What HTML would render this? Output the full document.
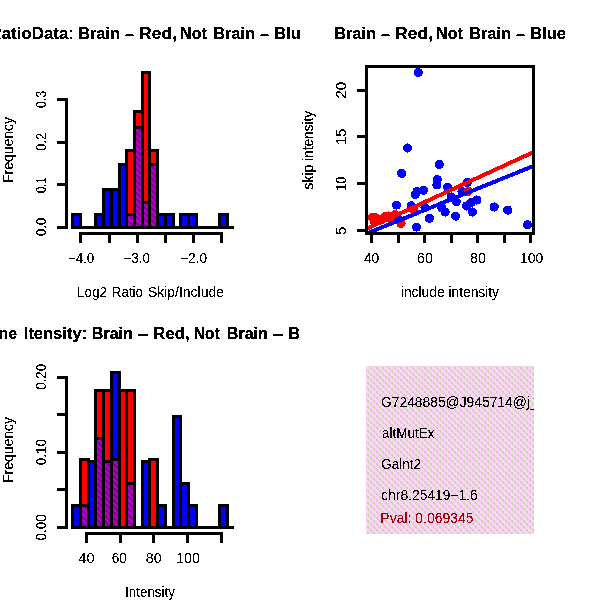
<!DOCTYPE html>
<html><head><meta charset="utf-8"><title>Brain vs Not Brain</title>
<style>
html,body{margin:0;padding:0;background:#fff;}
svg{display:block;font-family:"Liberation Sans",sans-serif;}
</style></head>
<body>
<svg width="600" height="600" viewBox="0 0 600 600">
<defs>
<pattern id="pk" width="6" height="6" patternUnits="userSpaceOnUse"><rect width="6" height="6" fill="#ffd2ff"/><g fill="#cbd5ac" shape-rendering="crispEdges"><rect x="2" y="0" width="1" height="1" opacity="0.85"/><rect x="3" y="0" width="1" height="1" opacity="0.85"/><rect x="4" y="1" width="1" height="1" opacity="1"/><rect x="5" y="1" width="1" height="1" opacity="1"/><rect x="4" y="2" width="1" height="1" opacity="1"/><rect x="5" y="2" width="1" height="1" opacity="1"/><rect x="5" y="3" width="1" height="1" opacity="0.85"/><rect x="0" y="3" width="1" height="1" opacity="0.85"/><rect x="1" y="4" width="1" height="1" opacity="1"/><rect x="2" y="4" width="1" height="1" opacity="1"/><rect x="1" y="5" width="1" height="1" opacity="1"/><rect x="2" y="5" width="1" height="1" opacity="1"/></g></pattern>
<pattern id="pp" width="6" height="6" patternUnits="userSpaceOnUse"><rect width="6" height="6" fill="#86008c"/><g fill="#ba00d8" shape-rendering="crispEdges"><rect x="5" y="0" width="1" height="1" opacity="0.3"/><rect x="0" y="0" width="1" height="1" opacity="1"/><rect x="1" y="0" width="1" height="1" opacity="1"/><rect x="2" y="0" width="1" height="1" opacity="0.25"/><rect x="0" y="1" width="1" height="1" opacity="0.3"/><rect x="1" y="1" width="1" height="1" opacity="1"/><rect x="2" y="1" width="1" height="1" opacity="1"/><rect x="3" y="1" width="1" height="1" opacity="0.25"/><rect x="1" y="2" width="1" height="1" opacity="0.3"/><rect x="2" y="2" width="1" height="1" opacity="1"/><rect x="3" y="2" width="1" height="1" opacity="1"/><rect x="4" y="2" width="1" height="1" opacity="0.25"/><rect x="2" y="3" width="1" height="1" opacity="0.3"/><rect x="3" y="3" width="1" height="1" opacity="1"/><rect x="4" y="3" width="1" height="1" opacity="1"/><rect x="5" y="3" width="1" height="1" opacity="0.25"/><rect x="3" y="4" width="1" height="1" opacity="0.3"/><rect x="4" y="4" width="1" height="1" opacity="1"/><rect x="5" y="4" width="1" height="1" opacity="1"/><rect x="0" y="4" width="1" height="1" opacity="0.25"/><rect x="4" y="5" width="1" height="1" opacity="0.3"/><rect x="5" y="5" width="1" height="1" opacity="1"/><rect x="0" y="5" width="1" height="1" opacity="1"/><rect x="1" y="5" width="1" height="1" opacity="0.25"/></g></pattern>
<filter id="th" x="0" y="0" width="600" height="600" filterUnits="userSpaceOnUse" color-interpolation-filters="sRGB"><feComponentTransfer><feFuncA type="discrete" tableValues="0 0 0 0 0 0 0 0 0 1 1 1 1 1 1 1 1 1 1 1"/></feComponentTransfer></filter>
<filter id="thb" x="0" y="0" width="600" height="600" filterUnits="userSpaceOnUse" color-interpolation-filters="sRGB"><feComponentTransfer><feFuncA type="discrete" tableValues="0 1 1"/></feComponentTransfer></filter>
<clipPath id="c2"><rect x="366.5" y="66.5" width="167" height="167"/></clipPath>
<clipPath id="c4"><rect x="366" y="366" width="168" height="168"/></clipPath>
<clipPath id="f1"><rect x="0" y="0" width="300" height="300"/></clipPath>
<clipPath id="f3"><rect x="0" y="300" width="300" height="300"/></clipPath>
</defs>
<rect width="600" height="600" fill="#fff"/>
<g shape-rendering="crispEdges">
<rect x="72.5" y="214.5" width="8.0" height="13.0" fill="#0000ff" stroke="#000" stroke-width="3"/>
<rect x="95.5" y="214.5" width="8.0" height="13.0" fill="#0000ff" stroke="#000" stroke-width="3"/>
<rect x="103.5" y="189.5" width="8.0" height="38.0" fill="#0000ff" stroke="#000" stroke-width="3"/>
<rect x="111.5" y="189.5" width="8.0" height="38.0" fill="#0000ff" stroke="#000" stroke-width="3"/>
<rect x="119.5" y="164.5" width="7.0" height="63.0" fill="#0000ff" stroke="#000" stroke-width="3"/>
<rect x="126.5" y="214.5" width="8.0" height="13.0" fill="#0000ff" stroke="#000" stroke-width="3"/>
<rect x="134.5" y="127.5" width="8.0" height="100.0" fill="#0000ff" stroke="#000" stroke-width="3"/>
<rect x="142.5" y="202.5" width="7.0" height="25.0" fill="#0000ff" stroke="#000" stroke-width="3"/>
<rect x="149.5" y="164.5" width="8.0" height="63.0" fill="#0000ff" stroke="#000" stroke-width="3"/>
<rect x="157.5" y="214.5" width="8.0" height="13.0" fill="#0000ff" stroke="#000" stroke-width="3"/>
<rect x="165.5" y="214.5" width="8.0" height="13.0" fill="#0000ff" stroke="#000" stroke-width="3"/>
<rect x="180.5" y="214.5" width="8.0" height="13.0" fill="#0000ff" stroke="#000" stroke-width="3"/>
<rect x="188.5" y="214.5" width="8.0" height="13.0" fill="#0000ff" stroke="#000" stroke-width="3"/>
<rect x="219.5" y="214.5" width="8.0" height="13.0" fill="#0000ff" stroke="#000" stroke-width="3"/>
<rect x="126.5" y="150.5" width="8.0" height="77.0" fill="#ff0000" stroke="#000" stroke-width="3"/>
<rect x="134.5" y="111.5" width="8.0" height="116.0" fill="#ff0000" stroke="#000" stroke-width="3"/>
<rect x="142.5" y="72.5" width="7.0" height="155.0" fill="#ff0000" stroke="#000" stroke-width="3"/>
<rect x="149.5" y="150.5" width="8.0" height="77.0" fill="#ff0000" stroke="#000" stroke-width="3"/>
<rect x="126.5" y="214.5" width="8.0" height="13.0" fill="url(#pp)" stroke="#000" stroke-width="3"/>
<rect x="126.5" y="214.5" width="8.0" height="13.0" fill="none" stroke="#000" stroke-width="3"/>
<rect x="134.5" y="127.5" width="8.0" height="100.0" fill="url(#pp)" stroke="#000" stroke-width="3"/>
<rect x="134.5" y="127.5" width="8.0" height="100.0" fill="none" stroke="#000" stroke-width="3"/>
<rect x="142.5" y="202.5" width="7.0" height="25.0" fill="url(#pp)" stroke="#000" stroke-width="3"/>
<rect x="142.5" y="202.5" width="7.0" height="25.0" fill="none" stroke="#000" stroke-width="3"/>
<rect x="149.5" y="164.5" width="8.0" height="63.0" fill="url(#pp)" stroke="#000" stroke-width="3"/>
<rect x="149.5" y="164.5" width="8.0" height="63.0" fill="none" stroke="#000" stroke-width="3"/>
<rect x="71" y="226.0" width="163" height="3" fill="#000"/>
<rect x="65" y="98" width="3" height="131" fill="#000"/>
<rect x="57" y="98" width="9" height="3" fill="#000"/>
<rect x="57" y="141" width="9" height="3" fill="#000"/>
<rect x="57" y="183" width="9" height="3" fill="#000"/>
<rect x="57" y="226" width="9" height="3" fill="#000"/>
<rect x="79" y="232" width="144" height="3" fill="#000"/>
<rect x="79" y="232" width="3" height="11" fill="#000"/>
<rect x="108" y="232" width="3" height="11" fill="#000"/>
<rect x="136" y="232" width="3" height="11" fill="#000"/>
<rect x="164" y="232" width="3" height="11" fill="#000"/>
<rect x="192" y="232" width="3" height="11" fill="#000"/>
<rect x="220" y="232" width="3" height="11" fill="#000"/>
</g>
<g shape-rendering="crispEdges">
<rect x="72.5" y="505.5" width="8.0" height="22.0" fill="#0000ff" stroke="#000" stroke-width="3"/>
<rect x="80.5" y="505.5" width="8.0" height="22.0" fill="#0000ff" stroke="#000" stroke-width="3"/>
<rect x="88.5" y="461.5" width="7.0" height="66.0" fill="#0000ff" stroke="#000" stroke-width="3"/>
<rect x="95.5" y="438.5" width="8.0" height="89.0" fill="#0000ff" stroke="#000" stroke-width="3"/>
<rect x="103.5" y="461.5" width="8.0" height="66.0" fill="#0000ff" stroke="#000" stroke-width="3"/>
<rect x="111.5" y="372.5" width="8.0" height="155.0" fill="#0000ff" stroke="#000" stroke-width="3"/>
<rect x="126.5" y="483.5" width="8.0" height="44.0" fill="#0000ff" stroke="#000" stroke-width="3"/>
<rect x="142.5" y="461.5" width="7.0" height="66.0" fill="#0000ff" stroke="#000" stroke-width="3"/>
<rect x="157.5" y="505.5" width="8.0" height="22.0" fill="#0000ff" stroke="#000" stroke-width="3"/>
<rect x="173.5" y="416.5" width="7.0" height="111.0" fill="#0000ff" stroke="#000" stroke-width="3"/>
<rect x="180.5" y="483.5" width="8.0" height="44.0" fill="#0000ff" stroke="#000" stroke-width="3"/>
<rect x="188.5" y="505.5" width="8.0" height="22.0" fill="#0000ff" stroke="#000" stroke-width="3"/>
<rect x="219.5" y="505.5" width="8.0" height="22.0" fill="#0000ff" stroke="#000" stroke-width="3"/>
<rect x="80.5" y="459.5" width="8.0" height="68.0" fill="#ff0000" stroke="#000" stroke-width="3"/>
<rect x="95.5" y="390.5" width="8.0" height="137.0" fill="#ff0000" stroke="#000" stroke-width="3"/>
<rect x="103.5" y="390.5" width="8.0" height="137.0" fill="#ff0000" stroke="#000" stroke-width="3"/>
<rect x="111.5" y="459.5" width="8.0" height="68.0" fill="#ff0000" stroke="#000" stroke-width="3"/>
<rect x="119.5" y="390.5" width="7.0" height="137.0" fill="#ff0000" stroke="#000" stroke-width="3"/>
<rect x="126.5" y="390.5" width="8.0" height="137.0" fill="#ff0000" stroke="#000" stroke-width="3"/>
<rect x="149.5" y="459.5" width="8.0" height="68.0" fill="#ff0000" stroke="#000" stroke-width="3"/>
<rect x="80.5" y="505.5" width="8.0" height="22.0" fill="url(#pp)" stroke="#000" stroke-width="3"/>
<rect x="80.5" y="505.5" width="8.0" height="22.0" fill="none" stroke="#000" stroke-width="3"/>
<rect x="95.5" y="438.5" width="8.0" height="89.0" fill="url(#pp)" stroke="#000" stroke-width="3"/>
<rect x="95.5" y="438.5" width="8.0" height="89.0" fill="none" stroke="#000" stroke-width="3"/>
<rect x="103.5" y="461.5" width="8.0" height="66.0" fill="url(#pp)" stroke="#000" stroke-width="3"/>
<rect x="103.5" y="461.5" width="8.0" height="66.0" fill="none" stroke="#000" stroke-width="3"/>
<rect x="111.5" y="459.5" width="8.0" height="68.0" fill="url(#pp)" stroke="#000" stroke-width="3"/>
<rect x="111.5" y="372.5" width="8.0" height="155.0" fill="none" stroke="#000" stroke-width="3"/>
<rect x="126.5" y="483.5" width="8.0" height="44.0" fill="url(#pp)" stroke="#000" stroke-width="3"/>
<rect x="126.5" y="483.5" width="8.0" height="44.0" fill="none" stroke="#000" stroke-width="3"/>
<rect x="71" y="526.0" width="163" height="3" fill="#000"/>
<rect x="65" y="376" width="3" height="153" fill="#000"/>
<rect x="57" y="376" width="9" height="3" fill="#000"/>
<rect x="57" y="413" width="9" height="3" fill="#000"/>
<rect x="57" y="451" width="9" height="3" fill="#000"/>
<rect x="57" y="488" width="9" height="3" fill="#000"/>
<rect x="57" y="526" width="9" height="3" fill="#000"/>
<rect x="85" y="532" width="138" height="3" fill="#000"/>
<rect x="85" y="532" width="3" height="11" fill="#000"/>
<rect x="119" y="532" width="3" height="11" fill="#000"/>
<rect x="152" y="532" width="3" height="11" fill="#000"/>
<rect x="186" y="532" width="3" height="11" fill="#000"/>
<rect x="220" y="532" width="3" height="11" fill="#000"/>
</g>
<g clip-path="url(#c2)" shape-rendering="crispEdges">
<circle cx="418.3" cy="72.5" r="4.6" fill="#0000ff"/>
<circle cx="407.5" cy="148" r="4.6" fill="#0000ff"/>
<circle cx="401.6" cy="173.4" r="4.6" fill="#0000ff"/>
<circle cx="439.2" cy="164.4" r="4.6" fill="#0000ff"/>
<circle cx="437.2" cy="179.5" r="4.6" fill="#0000ff"/>
<circle cx="437.0" cy="185" r="4.6" fill="#0000ff"/>
<circle cx="423.5" cy="190.2" r="4.6" fill="#0000ff"/>
<circle cx="417" cy="191.3" r="4.6" fill="#0000ff"/>
<circle cx="415.3" cy="194.5" r="4.6" fill="#0000ff"/>
<circle cx="396.5" cy="205.1" r="4.6" fill="#0000ff"/>
<circle cx="411.2" cy="205.8" r="4.6" fill="#0000ff"/>
<circle cx="447.6" cy="187.2" r="4.6" fill="#0000ff"/>
<circle cx="467.4" cy="182.4" r="4.6" fill="#0000ff"/>
<circle cx="462" cy="191.5" r="4.6" fill="#0000ff"/>
<circle cx="451.2" cy="197" r="4.6" fill="#0000ff"/>
<circle cx="456.2" cy="201.8" r="4.6" fill="#0000ff"/>
<circle cx="476.8" cy="200" r="4.6" fill="#0000ff"/>
<circle cx="471.2" cy="202.5" r="4.6" fill="#0000ff"/>
<circle cx="466.4" cy="206" r="4.6" fill="#0000ff"/>
<circle cx="472.3" cy="212" r="4.6" fill="#0000ff"/>
<circle cx="442" cy="208.1" r="4.6" fill="#0000ff"/>
<circle cx="445.1" cy="212" r="4.6" fill="#0000ff"/>
<circle cx="425" cy="207.5" r="4.6" fill="#0000ff"/>
<circle cx="455.6" cy="216.1" r="4.6" fill="#0000ff"/>
<circle cx="429.4" cy="218.3" r="4.6" fill="#0000ff"/>
<circle cx="494.2" cy="207" r="4.6" fill="#0000ff"/>
<circle cx="507.8" cy="210.1" r="4.6" fill="#0000ff"/>
<circle cx="527.5" cy="224.8" r="4.6" fill="#0000ff"/>
<circle cx="416.5" cy="227.1" r="4.6" fill="#0000ff"/>
<circle cx="372.5" cy="217.5" r="4.6" fill="#ff0000"/>
<circle cx="376" cy="218" r="4.6" fill="#ff0000"/>
<circle cx="374.5" cy="221.5" r="4.6" fill="#ff0000"/>
<circle cx="385" cy="216.5" r="4.6" fill="#ff0000"/>
<circle cx="388.5" cy="216" r="4.6" fill="#ff0000"/>
<circle cx="395" cy="214.5" r="4.6" fill="#ff0000"/>
<circle cx="401" cy="223" r="4.6" fill="#ff0000"/>
<circle cx="413.2" cy="209.8" r="4.6" fill="#ff0000"/>
<circle cx="468.2" cy="191.3" r="4.6" fill="#ff0000"/>
<circle cx="381" cy="220" r="4.6" fill="#ff0000"/>
<circle cx="391" cy="219" r="4.6" fill="#ff0000"/>
<circle cx="399" cy="219.4" r="4.6" fill="#0000ff"/>
<circle cx="401" cy="223.6" r="4.6" fill="#ff0000"/>
<line x1="366.5" y1="233.6" x2="533.5" y2="166.0" stroke="#0000ff" stroke-width="4"/>
<line x1="366.5" y1="228.8" x2="533.5" y2="152.1" stroke="#ff0000" stroke-width="4"/>
</g>
<g shape-rendering="crispEdges">
<rect x="366.5" y="66.5" width="167" height="167" fill="none" stroke="#000" stroke-width="3"/>
<rect x="370" y="234" width="3" height="9" fill="#000"/>
<rect x="397" y="234" width="3" height="9" fill="#000"/>
<rect x="423" y="234" width="3" height="9" fill="#000"/>
<rect x="450" y="234" width="3" height="9" fill="#000"/>
<rect x="476" y="234" width="3" height="9" fill="#000"/>
<rect x="503" y="234" width="3" height="9" fill="#000"/>
<rect x="529" y="234" width="3" height="9" fill="#000"/>
<rect x="357" y="89" width="9" height="3" fill="#000"/>
<rect x="357" y="135" width="9" height="3" fill="#000"/>
<rect x="357" y="182" width="9" height="3" fill="#000"/>
<rect x="357" y="229" width="9" height="3" fill="#000"/>
</g>
<rect x="366" y="366" width="168" height="168" fill="url(#pk)" shape-rendering="crispEdges"/>
<g filter="url(#th)">
<text transform="translate(13,183.00) rotate(-90)" stroke="#000" stroke-width="0.1" font-size="14" font-weight="normal" fill="#000" textLength="65.92" lengthAdjust="spacingAndGlyphs">Frequency</text>
<text transform="translate(46,108.25) rotate(-90)" stroke="#000" stroke-width="0.1" font-size="14" font-weight="normal" fill="#000" textLength="17.63" lengthAdjust="spacingAndGlyphs">0.3</text>
<text transform="translate(46,151.10) rotate(-90)" stroke="#000" stroke-width="0.1" font-size="14" font-weight="normal" fill="#000" textLength="18.41" lengthAdjust="spacingAndGlyphs">0.2</text>
<text transform="translate(46,193.00) rotate(-90)" stroke="#000" stroke-width="0.1" font-size="14" font-weight="normal" fill="#000" textLength="15.71" lengthAdjust="spacingAndGlyphs">0.1</text>
<text transform="translate(46,236.30) rotate(-90)" stroke="#000" stroke-width="0.1" font-size="14" font-weight="normal" fill="#000" textLength="18.57" lengthAdjust="spacingAndGlyphs">0.0</text>
<text x="67.80" y="263" font-size="14" font-weight="normal" fill="#000" textLength="26.55" lengthAdjust="spacingAndGlyphs">−4.0</text>
<text x="123.30" y="263" font-size="14" font-weight="normal" fill="#000" textLength="26.75" lengthAdjust="spacingAndGlyphs">−3.0</text>
<text x="180.00" y="263" font-size="14" font-weight="normal" fill="#000" textLength="27.04" lengthAdjust="spacingAndGlyphs">−2.0</text>
<text x="77.00" y="297" font-size="14" font-weight="normal" fill="#000" textLength="30.00" lengthAdjust="spacingAndGlyphs">Log2</text>
<text x="111.80" y="297" font-size="14" font-weight="normal" fill="#000" textLength="31.23" lengthAdjust="spacingAndGlyphs">Ratio</text>
<text x="147.90" y="297" font-size="14" font-weight="normal" fill="#000" textLength="76.15" lengthAdjust="spacingAndGlyphs">Skip/Include</text>
<text transform="translate(313,189.80) rotate(-90)" stroke="#000" stroke-width="0.1" font-size="14" font-weight="normal" fill="#000" textLength="25.09" lengthAdjust="spacingAndGlyphs">skip</text>
<text transform="translate(313,161.00) rotate(-90)" stroke="#000" stroke-width="0.1" font-size="14" font-weight="normal" fill="#000" textLength="50.22" lengthAdjust="spacingAndGlyphs">intensity</text>
<text transform="translate(346,98.50) rotate(-90)" stroke="#000" stroke-width="0.1" font-size="14" font-weight="normal" fill="#000" textLength="16.47" lengthAdjust="spacingAndGlyphs">20</text>
<text transform="translate(346,145.00) rotate(-90)" stroke="#000" stroke-width="0.1" font-size="14" font-weight="normal" fill="#000" textLength="16.44" lengthAdjust="spacingAndGlyphs">15</text>
<text transform="translate(346,191.00) rotate(-90)" stroke="#000" stroke-width="0.1" font-size="14" font-weight="normal" fill="#000" textLength="14.55" lengthAdjust="spacingAndGlyphs">10</text>
<text transform="translate(346,235.00) rotate(-90)" stroke="#000" stroke-width="0.1" font-size="14" font-weight="normal" fill="#000" textLength="8.41" lengthAdjust="spacingAndGlyphs">5</text>
<text x="363.90" y="263" font-size="14" font-weight="normal" fill="#000" textLength="15.37" lengthAdjust="spacingAndGlyphs">40</text>
<text x="416.90" y="263" font-size="14" font-weight="normal" fill="#000" textLength="16.02" lengthAdjust="spacingAndGlyphs">60</text>
<text x="469.90" y="263" font-size="14" font-weight="normal" fill="#000" textLength="16.07" lengthAdjust="spacingAndGlyphs">80</text>
<text x="519.90" y="263" font-size="14" font-weight="normal" fill="#000" textLength="23.29" lengthAdjust="spacingAndGlyphs">100</text>
<text x="400.90" y="297" font-size="14" font-weight="normal" fill="#000" textLength="98.12" lengthAdjust="spacingAndGlyphs">include intensity</text>
<text transform="translate(13,483.00) rotate(-90)" stroke="#000" stroke-width="0.1" font-size="14" font-weight="normal" fill="#000" textLength="65.92" lengthAdjust="spacingAndGlyphs">Frequency</text>
<text transform="translate(46,389.80) rotate(-90)" stroke="#000" stroke-width="0.1" font-size="14" font-weight="normal" fill="#000" textLength="25.83" lengthAdjust="spacingAndGlyphs">0.20</text>
<text transform="translate(46,465.20) rotate(-90)" stroke="#000" stroke-width="0.1" font-size="14" font-weight="normal" fill="#000" textLength="26.24" lengthAdjust="spacingAndGlyphs">0.10</text>
<text transform="translate(46,540.50) rotate(-90)" stroke="#000" stroke-width="0.1" font-size="14" font-weight="normal" fill="#000" textLength="26.16" lengthAdjust="spacingAndGlyphs">0.00</text>
<text x="78.30" y="563" font-size="14" font-weight="normal" fill="#000" textLength="16.43" lengthAdjust="spacingAndGlyphs">40</text>
<text x="111.80" y="563" font-size="14" font-weight="normal" fill="#000" textLength="14.93" lengthAdjust="spacingAndGlyphs">60</text>
<text x="145.80" y="563" font-size="14" font-weight="normal" fill="#000" textLength="15.75" lengthAdjust="spacingAndGlyphs">80</text>
<text x="176.00" y="563" font-size="14" font-weight="normal" fill="#000" textLength="23.92" lengthAdjust="spacingAndGlyphs">100</text>
<text x="125.00" y="597" font-size="14" font-weight="normal" fill="#000" textLength="50.02" lengthAdjust="spacingAndGlyphs">Intensity</text>
<g clip-path="url(#c4)"><text x="381.00" y="407" font-size="14" font-weight="normal" fill="#000" textLength="156.51" lengthAdjust="spacingAndGlyphs">G7248885@J945714@j_</text></g>
<g clip-path="url(#c4)"><text x="382.00" y="438" font-size="14" font-weight="normal" fill="#000" textLength="52.41" lengthAdjust="spacingAndGlyphs">altMutEx</text></g>
<g clip-path="url(#c4)"><text x="381.30" y="469" font-size="14" font-weight="normal" fill="#000" textLength="39.81" lengthAdjust="spacingAndGlyphs">Galnt2</text></g>
<g clip-path="url(#c4)"><text x="381.30" y="500" font-size="14" font-weight="normal" fill="#000" textLength="96.42" lengthAdjust="spacingAndGlyphs">chr8.25419−1.6</text></g>
<g clip-path="url(#c4)"><text x="380.30" y="523" font-size="14" font-weight="normal" fill="#a5000a" textLength="93.36" lengthAdjust="spacingAndGlyphs">Pval: 0.069345</text></g>
</g>
<g filter="url(#thb)">
<g clip-path="url(#f1)"><text x="-10.50" y="39" font-size="16" font-weight="bold" fill="#000" textLength="84.48" lengthAdjust="spacingAndGlyphs">RatioData:</text></g>
<g clip-path="url(#f1)"><text x="78.00" y="39" font-size="16" font-weight="bold" fill="#000" textLength="42.11" lengthAdjust="spacingAndGlyphs">Brain</text></g>
<g clip-path="url(#f1)"><text x="125.00" y="40" font-size="16" font-weight="bold" fill="#000" textLength="9.00" lengthAdjust="spacingAndGlyphs">–</text></g>
<g clip-path="url(#f1)"><text x="139.10" y="39" font-size="16" font-weight="bold" fill="#000" textLength="37.93" lengthAdjust="spacingAndGlyphs">Red,</text></g>
<g clip-path="url(#f1)"><text x="180.00" y="39" font-size="16" font-weight="bold" fill="#000" textLength="26.96" lengthAdjust="spacingAndGlyphs">Not</text></g>
<g clip-path="url(#f1)"><text x="213.00" y="39" font-size="16" font-weight="bold" fill="#000" textLength="42.11" lengthAdjust="spacingAndGlyphs">Brain</text></g>
<g clip-path="url(#f1)"><text x="260.00" y="40" font-size="16" font-weight="bold" fill="#000" textLength="9.00" lengthAdjust="spacingAndGlyphs">–</text></g>
<g clip-path="url(#f1)"><text x="274.10" y="39" font-size="16" font-weight="bold" fill="#000" textLength="35.95" lengthAdjust="spacingAndGlyphs">Blue</text></g>
<text x="334.00" y="39" font-size="16" font-weight="bold" fill="#000" textLength="42.11" lengthAdjust="spacingAndGlyphs">Brain</text>
<text x="381.00" y="40" font-size="16" font-weight="bold" fill="#000" textLength="9.00" lengthAdjust="spacingAndGlyphs">–</text>
<text x="395.10" y="39" font-size="16" font-weight="bold" fill="#000" textLength="37.93" lengthAdjust="spacingAndGlyphs">Red,</text>
<text x="436.00" y="39" font-size="16" font-weight="bold" fill="#000" textLength="26.96" lengthAdjust="spacingAndGlyphs">Not</text>
<text x="469.00" y="39" font-size="16" font-weight="bold" fill="#000" textLength="42.11" lengthAdjust="spacingAndGlyphs">Brain</text>
<text x="516.00" y="40" font-size="16" font-weight="bold" fill="#000" textLength="9.00" lengthAdjust="spacingAndGlyphs">–</text>
<text x="530.10" y="39" font-size="16" font-weight="bold" fill="#000" textLength="35.95" lengthAdjust="spacingAndGlyphs">Blue</text>
<g clip-path="url(#f3)"><text x="-22.50" y="339" font-size="16" font-weight="bold" fill="#000" textLength="39.53" lengthAdjust="spacingAndGlyphs">Gene</text></g>
<g clip-path="url(#f3)"><text x="23.80" y="339" font-size="16" font-weight="bold" fill="#000" textLength="63.25" lengthAdjust="spacingAndGlyphs">Itensity:</text></g>
<g clip-path="url(#f3)"><text x="91.80" y="339" font-size="16" font-weight="bold" fill="#000" textLength="41.08" lengthAdjust="spacingAndGlyphs">Brain</text></g>
<g clip-path="url(#f3)"><text x="137.80" y="340" font-size="16" font-weight="bold" fill="#000" textLength="10.38" lengthAdjust="spacingAndGlyphs">–</text></g>
<g clip-path="url(#f3)"><text x="152.90" y="339" font-size="16" font-weight="bold" fill="#000" textLength="36.94" lengthAdjust="spacingAndGlyphs">Red,</text></g>
<g clip-path="url(#f3)"><text x="193.80" y="339" font-size="16" font-weight="bold" fill="#000" textLength="25.93" lengthAdjust="spacingAndGlyphs">Not</text></g>
<g clip-path="url(#f3)"><text x="226.80" y="339" font-size="16" font-weight="bold" fill="#000" textLength="41.08" lengthAdjust="spacingAndGlyphs">Brain</text></g>
<g clip-path="url(#f3)"><text x="272.80" y="340" font-size="16" font-weight="bold" fill="#000" textLength="10.38" lengthAdjust="spacingAndGlyphs">–</text></g>
<g clip-path="url(#f3)"><text x="287.90" y="339" font-size="16" font-weight="bold" fill="#000" textLength="35.98" lengthAdjust="spacingAndGlyphs">Blue</text></g>
</g>
</svg>
</body></html>
